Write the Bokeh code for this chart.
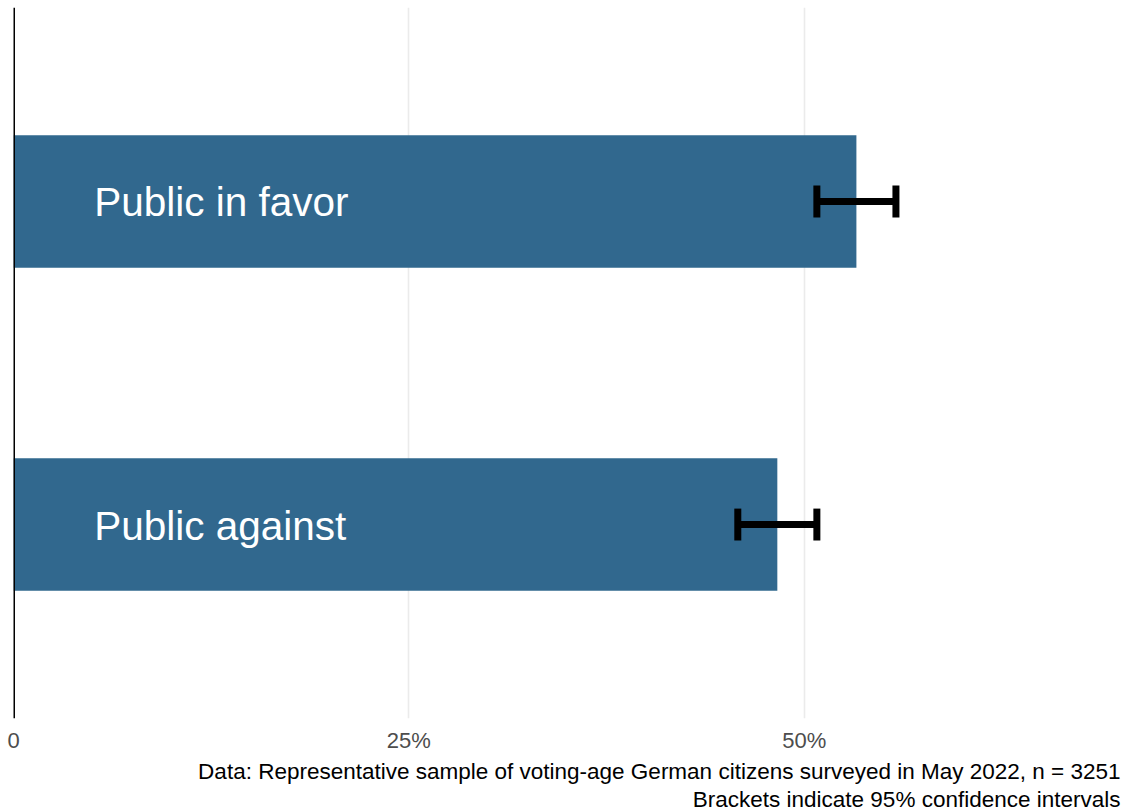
from bokeh.plotting import figure
from bokeh.models import (ColumnDataSource, FactorRange, Range1d, FixedTicker, Span,
                          Whisker, TeeHead, Title)
from bokeh.core.properties import value
from bokeh.embed import file_html
from bokeh.resources import INLINE

categories = ["Public against", "Public in favor"]
shares = [48.3, 53.3]
ci_lower = [45.8, 50.8]
ci_upper = [50.8, 55.8]
tick_values = [0, 25, 50]
tick_labels = ["0", "25%", "50%"]
caption_lines = [
    "Data: Representative sample of voting-age German citizens surveyed in May 2022, n = 3251",
    "Brackets indicate 95% confidence intervals",
]

FONT = "Liberation Sans"
BAR = "#31688E"

src = ColumnDataSource(dict(cat=categories, share=shares, lo=ci_lower, hi=ci_upper,
                            lab_x=[5.1] * len(categories)))

p = figure(width=1124, height=811, output_backend="svg", toolbar_location=None,
           y_range=FactorRange(factors=categories, range_padding=0.1),
           x_range=Range1d(0, 70),
           min_border_left=13, min_border_right=4, min_border_top=7, min_border_bottom=0)
p.outline_line_color = None
p.background_fill_color = "white"
p.border_fill_color = "white"

p.hbar(y="cat", right="share", left=0, height=0.41, source=src,
       fill_color=BAR, line_color=None)

p.text(x="lab_x", y="cat", text="cat", source=src, text_color="white",
       text_font=value(FONT), text_font_size="40.5px", text_align="left",
       text_baseline="middle", y_offset=1)

w = Whisker(base="cat", lower="lo", upper="hi", dimension="width", source=src,
            line_color="black", line_width=7, level="overlay",
            lower_head=TeeHead(size=32, line_width=7, line_color="black"),
            upper_head=TeeHead(size=32, line_width=7, line_color="black"))
p.add_layout(w)

p.add_layout(Span(location=0, dimension="height", line_color="black", line_width=3))

p.yaxis.visible = False
p.ygrid.visible = False
p.xgrid.ticker = FixedTicker(ticks=tick_values)
p.xgrid.grid_line_color = "#EBEBEB"
p.xgrid.grid_line_width = 1.6

xa = p.xaxis[0]
xa.ticker = FixedTicker(ticks=tick_values)
xa.major_label_overrides = {v: l for v, l in zip(tick_values, tick_labels)}
xa.axis_line_color = None
xa.major_tick_line_color = None
xa.minor_tick_line_color = None
xa.major_tick_out = 0
xa.major_tick_in = 0
xa.major_label_standoff = 9
xa.major_label_text_font = FONT
xa.major_label_text_font_size = "22px"
xa.major_label_text_color = "#4D4D4D"

for i, line in enumerate(caption_lines):
    t = Title(text=line, align="right", text_font=FONT, text_font_size="22.5px",
              text_font_style="normal", text_color="black", text_line_height=1.0,
              standoff=2 if i == 0 else 0)
    p.add_layout(t, "below")

open("out.html", "w").write(file_html(p, INLINE))
